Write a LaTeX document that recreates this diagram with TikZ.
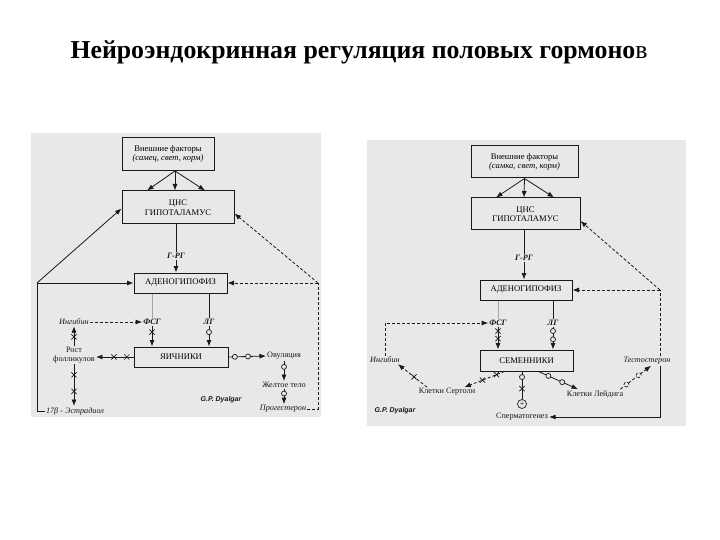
\documentclass[tikz,border=0pt]{standalone}
\usepackage{fontspec}
\setmainfont{Liberation Serif}
\newfontfamily\sigfont{Liberation Sans}
\usetikzlibrary{arrows.meta,shapes.misc}
\definecolor{panel}{gray}{0.91}
\definecolor{ink}{gray}{0.1}
\begin{document}
\begin{tikzpicture}[x=1pt,y=-1pt,
  font=\fontsize{8.6}{9.6}\selectfont,
  box/.style={draw=ink, line width=1pt, align=center, inner sep=0pt},
  lbl/.style={font=\fontsize{8.2}{9.2}\selectfont, inner sep=1pt, align=center, text=ink},
  itl/.style={lbl, font=\itshape\fontsize{8.2}{9.2}\selectfont},
  hl/.style={lbl, font=\bfseries\itshape\fontsize{8.2}{9.2}\selectfont},
  sig/.style={font=\sigfont\bfseries\itshape\fontsize{7}{7}\selectfont, text=ink, inner sep=0pt},
  ln/.style={draw=ink, line width=0.8pt},
  thinln/.style={draw=gray!70, line width=0.7pt},
  dsh/.style={dash pattern=on 3pt off 2pt},
  arr/.style={-{Latex[length=6.5pt,width=5pt]}},
  circ/.style={circle, draw=ink, fill=panel, line width=0.7pt, minimum size=5pt, inner sep=0pt},
  xm/.style={cross out, draw=ink, line width=0.7pt, minimum size=4.5pt, inner sep=0pt, solid}
]
\useasboundingbox (0,0) rectangle (720,540);
\fill[white] (0,0) rectangle (720,540);
% title
\node[font=\bfseries\fontsize{25.8}{30}\selectfont, inner sep=0pt] (title) at (359,52) {Нейроэндокринная регуляция половых гормоно\textmd{в}};
% panels
\fill[panel] (31,133) rectangle (321,417);
\fill[panel] (367,140) rectangle (686,426);

% ================= LEFT =================
\node[box, minimum width=92pt, minimum height=33pt] (lext) at (168,154) {Внешние факторы\\\textit{(самец, свет, корм)}};
\node[box, minimum width=112pt, minimum height=33pt] (lcns) at (178,207.5) {ЦНС\\ГИПОТАЛАМУС};
\draw[ln,arr] ([xshift=7pt]lext.south) -- ([xshift=-31pt]lcns.north);
\draw[ln,arr] ([xshift=7pt]lext.south) -- ([xshift=-3pt]lcns.north);
\draw[ln,arr] ([xshift=7pt]lext.south) -- ([xshift=27pt]lcns.north);
\node[hl] (lgrg) at (176,256) {Г-РГ};
\node[box, minimum width=93pt, minimum height=20pt] (ladeno) at (180.5,283) {АДЕНОГИПОФИЗ};
\draw[ln] (lcns.south -| lgrg) -- (lgrg.north);
\draw[ln,arr] (lgrg.south) -- (lgrg.south |- ladeno.north);
\coordinate (lcl) at (37,283);
\coordinate (lcr) at (318,283);
\node[itl] (lestr) at (75,411) {17β - Эстрадиол};
\draw[ln] (lestr.west) -| (lcl);
\draw[ln,arr] (lcl) -- (ladeno.west);
\draw[ln,arr] (lcl) -- ([yshift=-1pt]lcns.west);
\node[itl] (lprog) at (283,409) {Прогестерон};
\draw[ln,dsh] (lprog.east) -| (lcr);
\draw[ln,dsh,arr] (lcr) -- (ladeno.east);
\draw[ln,dsh,arr] (lcr) -- ([yshift=-6pt]lcns.east);
\node[hl] (lfsg) at (152,322) {ФСГ};
\node[hl] (llg) at (209,322) {ЛГ};
\draw[thinln] (ladeno.south -| lfsg) -- (lfsg.north);
\draw[ln] (ladeno.south -| llg) -- (llg.north);
\node[itl] (linh) at (74,322) {Ингибин};
\draw[ln,dsh,arr] (linh.east) -- (lfsg.west);
\node[box, minimum width=94pt, minimum height=20pt] (lovar) at (181,357) {ЯИЧНИКИ};
\draw[ln,arr] (lfsg.south) -- node[xm,pos=0.3] (lx1) {} (lfsg.south |- lovar.north);
\draw[ln,arr] (llg.south) -- node[circ,pos=0.3] (lc1) {} (llg.south |- lovar.north);
\node[lbl] (lfol) at (74,355) {Рост\\фолликулов};
\draw[ln,arr] (lovar.west) -- node[xm,pos=0.18] (lx2) {} node[xm,pos=0.52] (lx3) {} (lovar.west -| lfol.east);
\draw[ln,arr] (lfol.north) -- node[xm,pos=0.45] (lx4) {} (linh.south);
\draw[ln,arr] (lfol.south) -- node[xm,pos=0.25] (lx5) {} node[xm,pos=0.65] (lx6) {} (lfol.south |- lestr.north);
\node[lbl] (lovul) at (284,356) {Овуляция};
\draw[ln,arr] (lovar.east) -- node[circ,pos=0.17] (lc2) {} node[circ,pos=0.52] (lc3) {} (lovul.west);
\node[lbl] (lyel) at (284,385) {Желтое тело};
\draw[ln,arr] (lovul.south) -- node[circ,pos=0.3] (lc4) {} (lyel.north);
\draw[ln,arr] (lyel.south) -- node[circ,pos=0.3] (lc5) {} (lyel.south |- lprog.north);
\node[sig] (lsig) at (221,400) {G.P. Dyalgar};

% ================= RIGHT =================
\node[box, minimum width=107pt, minimum height=32pt] (rext) at (524.5,162) {Внешние факторы\\\textit{(самка, свет, корм)}};
\node[box, minimum width=109pt, minimum height=32pt] (rcns) at (525.5,214) {ЦНС\\ГИПОТАЛАМУС};
\draw[ln,arr] (rext.south) -- ([xshift=-29.5pt]rcns.north);
\draw[ln,arr] (rext.south) -- ([xshift=-1.5pt]rcns.north);
\draw[ln,arr] (rext.south) -- ([xshift=28.5pt]rcns.north);
\node[hl] (rgrg) at (524,258) {Г-РГ};
\node[box, minimum width=92pt, minimum height=20pt] (radeno) at (526,290) {АДЕНОГИПОФИЗ};
\draw[ln] (rcns.south -| rgrg) -- (rgrg.north);
\draw[ln,arr] (rgrg.south) -- (rgrg.south |- radeno.north);
\coordinate (rcr) at (660,290);
\draw[ln,dsh,arr] (rcr) -- (radeno.east);
\draw[ln,dsh,arr] (rcr) -- ([yshift=-7pt]rcns.east);
\node[itl] (rtest) at (647,361) {Тестостерон};
\draw[ln,dsh] (rcr |- rtest.north) -- (rcr);
\node[lbl] (rsperm) at (522,417) {Сперматогенез};
\draw[ln,arr] (rcr |- rtest.south) |- (rsperm.east);
\node[hl] (rfsg) at (498,323) {ФСГ};
\node[hl] (rlg) at (553,323) {ЛГ};
\draw[thinln] (radeno.south -| rfsg) -- (rfsg.north);
\draw[ln] (radeno.south -| rlg) -- (rlg.north);
\node[box, minimum width=93pt, minimum height=21pt] (rsem) at (526.5,360.5) {СЕМЕННИКИ};
\draw[ln,arr] (rfsg.south) -- node[xm,pos=0.18] (rx1) {} node[xm,pos=0.52] (rx2) {} (rfsg.south |- rsem.north);
\draw[ln,arr] (rlg.south) -- node[circ,pos=0.18] (rc1) {} node[circ,pos=0.55] (rc2) {} (rlg.south |- rsem.north);
\node[itl] (rinh) at (385,360) {Ингибин};
\draw[ln,dsh,arr] (rinh.north) |- (rfsg.west);
\node[lbl] (rsert) at (447,392) {Клетки Сертоли};
\draw[ln,dsh,arr] ([xshift=-22pt]rsem.south) -- node[xm,pos=0.2] (rx3) {} node[xm,pos=0.55] (rx4) {} ([xshift=-12pt]rsert.north east);
\draw[ln,dsh,arr] ([xshift=-20pt]rsert.north) -- node[xm,pos=0.45] (rx5) {} ([xshift=-3pt]rinh.south east);
\node[circle, draw=ink, line width=0.7pt, inner sep=0pt, minimum size=9pt, font=\fontsize{8}{8}\selectfont] (rplus) at (522,404) {+};
\draw[ln] (rsem.south -| rplus) -- node[circ,pos=0.2] (rc3) {} node[xm,pos=0.62] (rx6) {} (rplus.north);
\node[lbl] (rleyd) at (595,394) {Клетки Лейдига};
\draw[ln,arr] ([xshift=12pt]rsem.south) -- node[circ,pos=0.25] (rc4) {} node[circ,pos=0.6] (rc5) {} ([xshift=-17pt]rleyd.north);
\draw[ln,dsh,arr] ([xshift=-4pt]rleyd.north east) -- node[circ,pos=0.2] (rc6) {} node[circ,pos=0.6] (rc7) {} ([xshift=4pt]rtest.south);
\node[sig] (rsig) at (395,411) {G.P. Dyalgar};
\end{tikzpicture}
\end{document}
